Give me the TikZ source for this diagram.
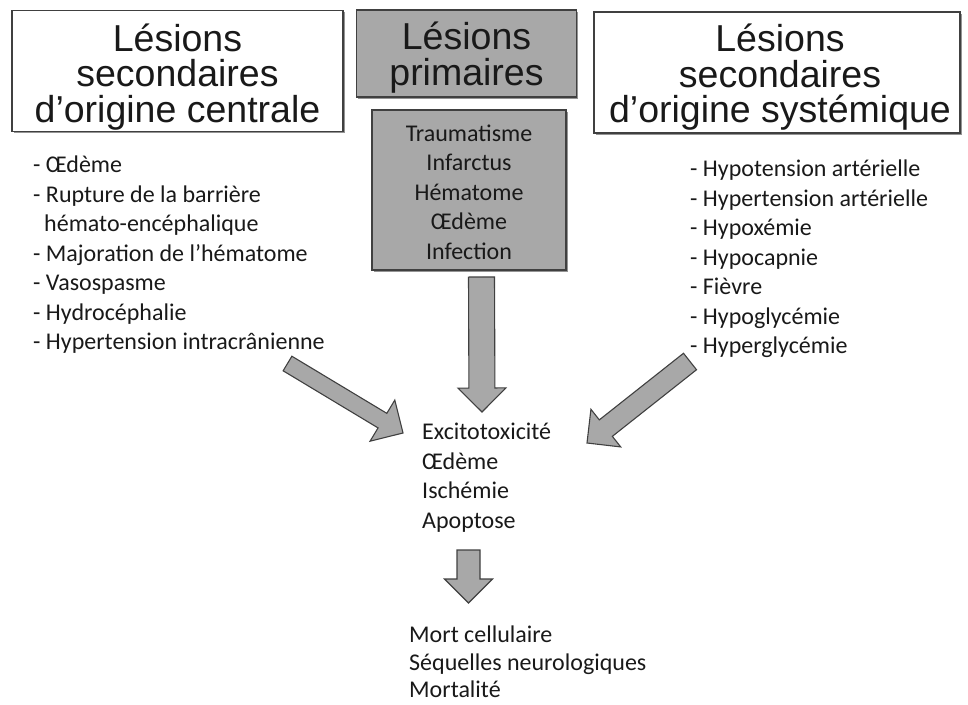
\documentclass[tikz,border=0pt]{standalone}
\usepackage{fontspec}
\setmainfont{Carlito}
\newfontfamily\helv{Liberation Sans}
\usetikzlibrary{calc,shadows}

\definecolor{boxgray}{HTML}{A8A8A8}
\definecolor{edgegray}{HTML}{404040}

\tikzset{
  titlebox/.style={draw=edgegray, line width=1.2pt, inner sep=0pt, fill=white,
    drop shadow={shadow xshift=1.5pt, shadow yshift=-1.5pt, opacity=.6, fill=black!70}},
  graybox/.style={titlebox, fill=boxgray},
  titletext/.style={inner sep=0pt, align=center, text=black!90,
    font=\helv\fontsize{37.5}{35.5}\selectfont},
  listtext/.style={inner sep=0pt, align=left, text=black!90,
    font=\fontsize{24}{29.5}\selectfont},
  fat/.style={draw=edgegray, line width=1.1pt, fill=boxgray, line join=miter}
}

% block arrow from tail to tip: [shaft half width]{tail}{tip}
\newcommand\fatarrow[3][12pt]{%
  \coordinate (hb) at ($(#3)!24pt!(#2)$);
  \draw[fat] ($(#2)!#1!90:(#3)$) -- ($(hb)!#1!-90:(#2)$) -- ($(hb)!24pt!-90:(#2)$)
    -- (#3) -- ($(hb)!24pt!90:(#2)$) -- ($(hb)!#1!90:(#2)$) -- ($(#2)!#1!-90:(#3)$) -- cycle;
}

\begin{document}
\begin{tikzpicture}[x=1pt, y=-1pt]
  \useasboundingbox (0,0) rectangle (968,704);

  % boxes
  \node[titlebox, minimum width=331, minimum height=121] (central) at (177.5,71) {};
  \node[graybox, minimum width=220, minimum height=87] (primary) at (466.5,53.5) {};
  \node[graybox, minimum width=194, minimum height=160] (causes) at (469,190) {};
  \node[titlebox, minimum width=366, minimum height=121] (systemic) at (777,72.5) {};

  \node[titletext] (centralt) at ([yshift=-6pt]central.center)
    {Lésions\\secondaires\\d’origine centrale};
  \node[titletext] (primaryt) at ([yshift=-4pt]primary.center) {Lésions\\primaires};
  \node[titletext] (systemict) at ([xshift=3pt, yshift=-5pt]systemic.center)
    {Lésions\\secondaires\\d’origine systémique};
  \node[listtext, align=center] (causest) at ([yshift=-2pt]causes.center)
    {Traumatisme\\Infarctus\\Hématome\\Œdème\\Infection};

  % lists
  \node[listtext, anchor=north west] (clist) at (33,156)
    {- Œdème\\- Rupture de la barrière\\\hspace{11pt}hémato-encéphalique\\
     - Majoration de l’hématome\\- Vasospasme\\- Hydrocéphalie\\- Hypertension intracrânienne};
  \node[listtext, anchor=north west] (slist) at (690,160)
    {- Hypotension artérielle\\- Hypertension artérielle\\- Hypoxémie\\- Hypocapnie\\
     - Fièvre\\- Hypoglycémie\\- Hyperglycémie};
  \node[listtext, anchor=north west] (mech) at (422,423)
    {Excitotoxicité\\Œdème\\Ischémie\\Apoptose};
  \node[listtext, anchor=north west, font=\fontsize{24}{27.5}\selectfont] (outcome) at (409,626)
    {Mort cellulaire\\Séquelles neurologiques\\Mortalité};

  % arrows
  \coordinate (t1) at (481.5,277);   \coordinate (p1) at (482,412);
  \coordinate (t2) at (287.5,363.5); \coordinate (p2) at (403,433);
  \coordinate (t3) at (690,361.5);   \coordinate (p3) at (587,443);
  \coordinate (t4) at (468.5,550);   \coordinate (p4) at (468.5,603);
  \fatarrow[13pt]{t1}{p1}
  \fatarrow[8.5pt]{t2}{p2}
  \fatarrow[10.5pt]{t3}{p3}
  \fatarrow[11.5pt]{t4}{p4}
\end{tikzpicture}
\end{document}
